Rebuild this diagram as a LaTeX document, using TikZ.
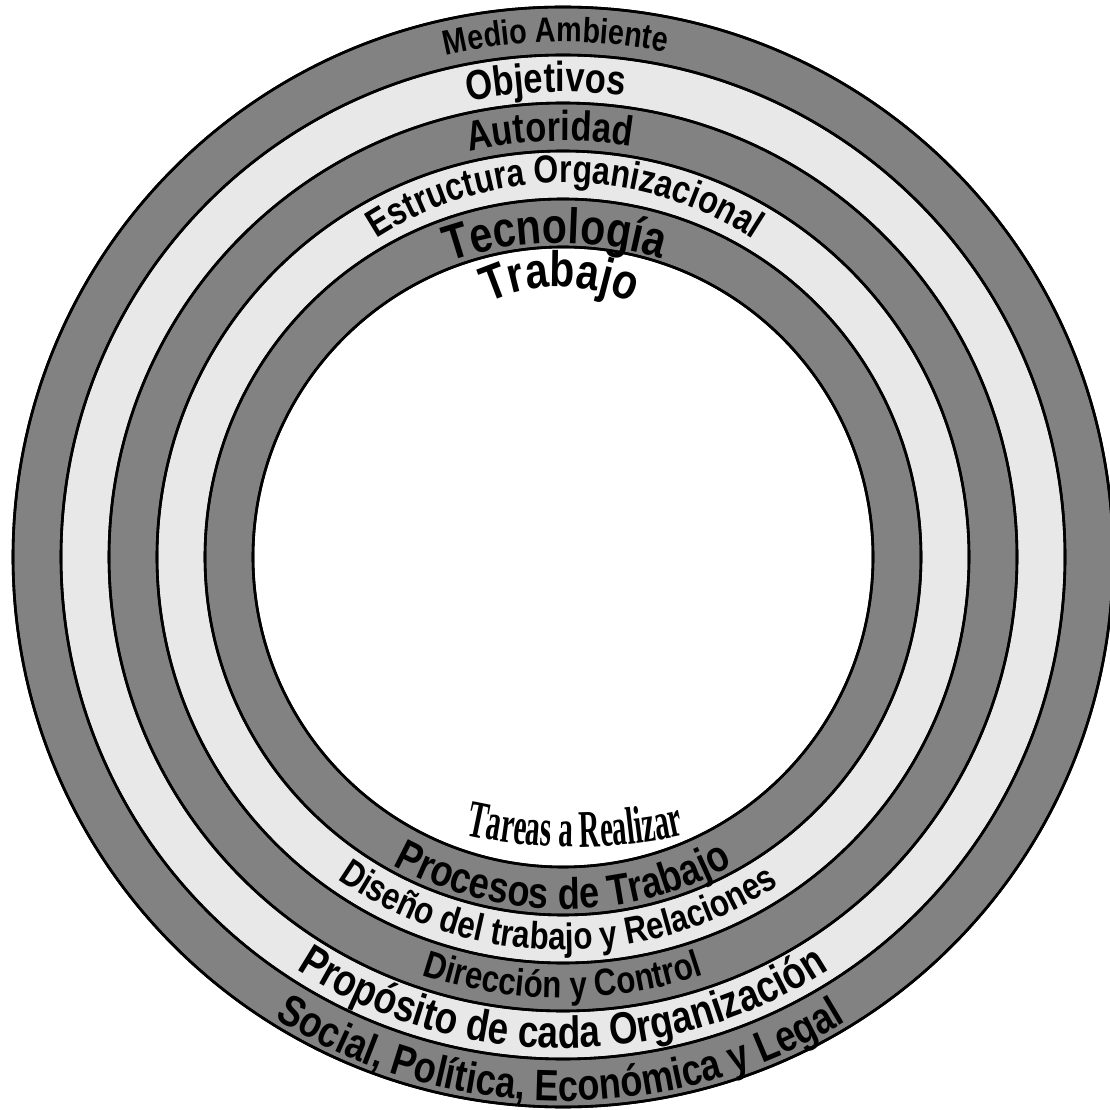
\documentclass[tikz,border=0pt]{standalone}
\usepackage{fontspec}
\usetikzlibrary{decorations.text}
\newfontfamily\sfb[FakeStretch=0.82]{Liberation Sans}
\newfontfamily\serb[FakeStretch=0.55]{Liberation Serif}
\definecolor{darkring}{RGB}{130,130,130}
\definecolor{lightring}{RGB}{232,232,232}
\tikzset{
  ring/.style={draw=black, line width=2.6pt},
  arctext/.style={decorate, decoration={text along path, text align=center, text={#1}}}
}
\newcommand{\lbl}[2]{|\sfb\bfseries\fontsize{#1}{#1}\selectfont|#2}
\begin{document}
\begin{tikzpicture}[x=1pt,y=1pt]
\useasboundingbox (0,0) rectangle (1110,1109);
\fill[white] (0,0) rectangle (1110,1109);
\coordinate (C) at (563,552);
% rings
\fill[ring, fill=darkring] (C) circle[radius=550pt];
\fill[ring, fill=lightring] (C) circle[radius=502pt];
\fill[ring, fill=darkring] (C) circle[radius=454pt];
\fill[ring, fill=lightring] (C) circle[radius=406pt];
\fill[ring, fill=darkring] (C) circle[radius=358pt];
\fill[ring, fill=white] (C) circle[radius=310pt];
\draw[ring] (C) circle[radius=550pt];
\draw[ring] (C) circle[radius=502pt];
\draw[ring] (C) circle[radius=454pt];
\draw[ring] (C) circle[radius=406pt];
\draw[ring] (C) circle[radius=358pt];
\draw[ring] (C) circle[radius=310pt];
% top labels
\path[arctext={\lbl{35}{Medio Ambiente}}] (C) ++(170.8:515pt) arc[start angle=170.8, end angle=10.8, radius=515pt];
\path[arctext={\lbl{42}{Objetivos}}] (C) ++(172.1:465pt) arc[start angle=172.1, end angle=12.1, radius=465pt];
\path[arctext={\lbl{42}{Autoridad}}] (C) ++(171.8:416pt) arc[start angle=171.8, end angle=11.8, radius=416pt];
\coordinate (E) at (565,581);
\path[arctext={\lbl{39}{Estructura Organizacional}}] (E) ++(170:345pt) arc[start angle=170, end angle=10, radius=345pt];
\coordinate (T) at (560,530);
\path[arctext={\lbl{50}{Tecnología}}] (T) ++(170.8:336pt) arc[start angle=170.8, end angle=10.8, radius=336pt];
\coordinate (W) at (560,652);
\path[arctext={\lbl{50}{Trabajo}}] (W) ++(170:170pt) arc[start angle=170, end angle=10, radius=170pt];
% bottom labels
\coordinate (R) at (575,762);
\path[arctext={|\serb\bfseries\fontsize{53}{53}\selectfont|Tareas a Realizar}] (R) ++(200:500pt) arc[start angle=200, end angle=340, radius=500pt];
\path[arctext={\lbl{44}{Procesos de Trabajo}}] (C) ++(190:352pt) arc[start angle=190, end angle=350, radius=352pt];
\path[arctext={\lbl{38}{Diseño del trabajo y Relaciones}}] (C) ++(189.2:393pt) arc[start angle=189.2, end angle=349.2, radius=393pt];
\path[arctext={\lbl{38}{Dirección y Control}}] (C) ++(190:441pt) arc[start angle=190, end angle=350, radius=441pt];
\path[arctext={\lbl{45}{Propósito de cada Organización}}] (C) ++(190:491pt) arc[start angle=190, end angle=350, radius=491pt];
\path[arctext={\lbl{44}{Social, Política, Económica y Legal}}] (C) ++(189.7:544pt) arc[start angle=189.7, end angle=349.7, radius=544pt];
\end{tikzpicture}
\end{document}
